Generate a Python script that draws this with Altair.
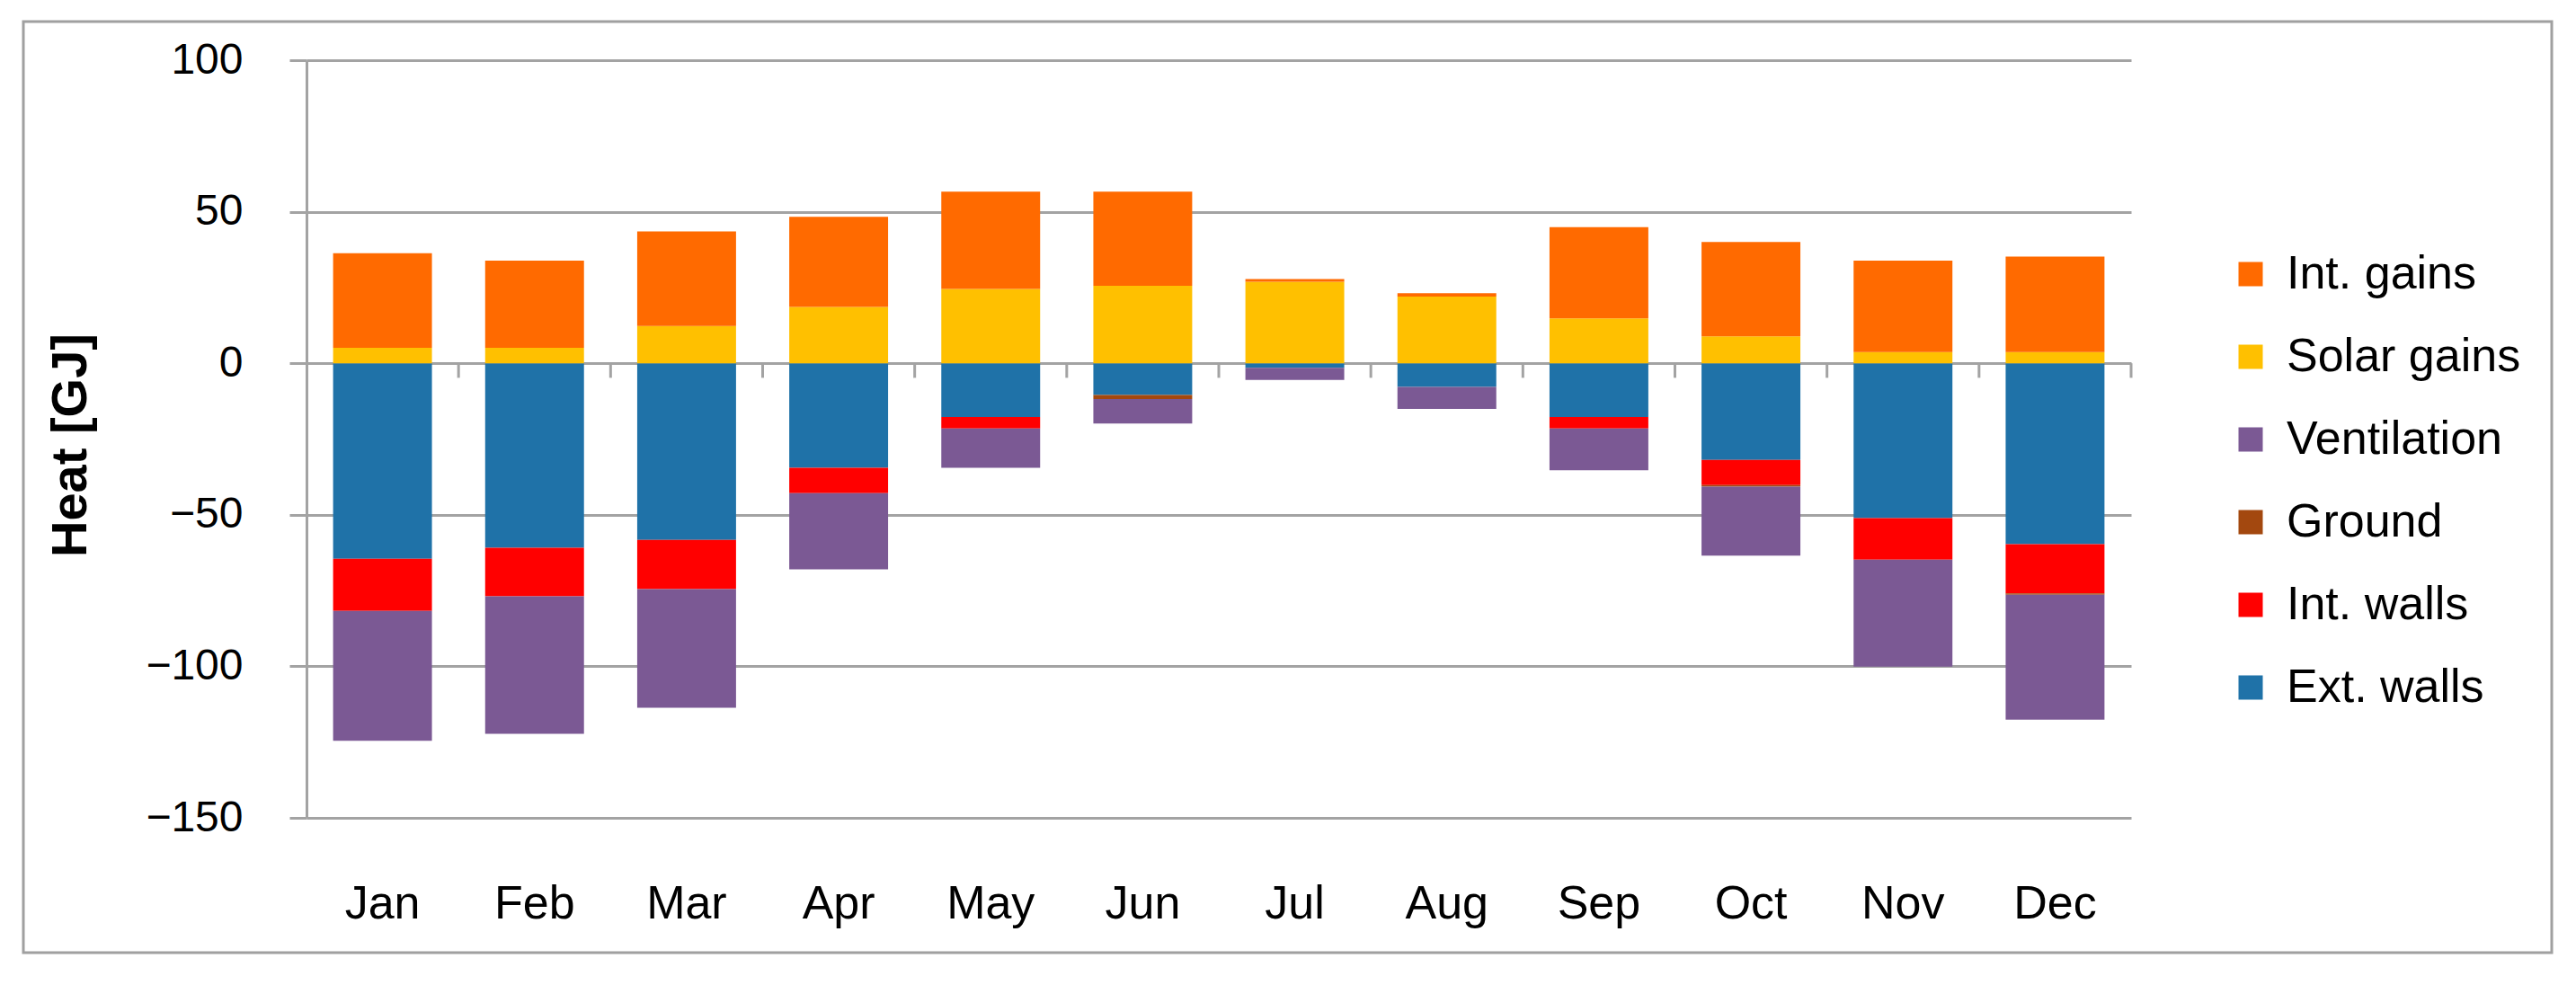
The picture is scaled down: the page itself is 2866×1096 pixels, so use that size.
import altair as alt
import pandas as pd

months = ["Jan", "Feb", "Mar", "Apr", "May", "Jun", "Jul", "Aug", "Sep", "Oct", "Nov", "Dec"]

# Stack order (from zero outward)
series = ["Ext. walls", "Int. walls", "Ground", "Ventilation", "Solar gains", "Int. gains"]
ext_walls = [-64.5, -60.9, -58.3, -34.5, -17.7, -10.5, -1.5, -7.8, -17.7, -31.9, -51.1, -59.7]
int_walls = [-17.2, -16.0, -16.2, -8.4, -3.8, 0.0, 0.0, 0.0, -3.8, -8.3, -13.7, -16.2]
ground = [0.0, 0.0, 0.0, 0.0, 0.0, -1.3, 0.0, 0.0, 0.0, -0.5, 0.0, -0.5]
ventilation = [-42.9, -45.4, -39.2, -25.1, -13.0, -8.1, -4.0, -7.3, -13.8, -22.8, -35.3, -41.2]
solar_gains = [5.1, 5.1, 12.3, 18.6, 24.5, 25.6, 26.9, 22.0, 14.8, 8.9, 3.7, 3.7]
int_gains = [31.2, 28.8, 31.2, 29.7, 32.1, 31.0, 0.9, 1.1, 30.1, 31.1, 30.2, 31.5]

legend_order = ["Int. gains", "Solar gains", "Ventilation", "Ground", "Int. walls", "Ext. walls"]
legend_colors = ["#FF6A00", "#FFC000", "#7B5994", "#A3480F", "#FF0000", "#1F72A8"]

y_ticks = [-150, -100, -50, 0, 50, 100]

rows = []
for i, m in enumerate(months):
    for k, (name, vals) in enumerate(zip(series, [ext_walls, int_walls, ground, ventilation, solar_gains, int_gains])):
        rows.append({"month": m, "series": name, "value": vals[i], "order": k})
df = pd.DataFrame(rows)
df_months = pd.DataFrame({"month": months})

W, H = 2030, 843
PAD_L, PAD_T = 333, 59
FONT = "Liberation Sans"
GRID = "#A3A3A3"
PAD_INNER = 0.35
# shift from bar end to band boundary (half of the gap between bars), in px
GAP_HALF = (W / len(months)) * PAD_INNER / 2

x_enc = alt.X(
    "month:N",
    sort=months,
    scale=alt.Scale(paddingInner=PAD_INNER, paddingOuter=PAD_INNER / 2),
    axis=alt.Axis(
        title=None, labelAngle=0, domain=False, ticks=False, grid=False,
        labelPadding=70, labelFontSize=52, labelFont=FONT, labelColor="black",
    ),
)
y_enc = alt.Y(
    "value:Q",
    stack="zero",
    title="Heat [GJ]",
    scale=alt.Scale(domain=[-150, 100], nice=False, zero=False),
    axis=alt.Axis(
        values=y_ticks, grid=True, gridColor=GRID, gridWidth=3,
        domain=True, domainColor=GRID, domainWidth=3,
        ticks=True, tickSize=19, tickColor=GRID, tickWidth=3,
        labelFontSize=48, labelFont=FONT, labelColor="black", labelPadding=52,
        titleFontSize=56, titleFont=FONT, titleFontWeight="bold", titleColor="black",
        titleX=-263, titleY=428, titleAngle=270, titleAlign="center", titleBaseline="middle",
    ),
)

bars = alt.Chart(df).mark_bar().encode(
    x=x_enc,
    y=y_enc,
    color=alt.Color(
        "series:N",
        scale=alt.Scale(domain=legend_order, range=legend_colors),
        legend=alt.Legend(
            title=None, orient="none", legendX=2137, legendY=212,
            symbolType="square", symbolSize=729, symbolStrokeWidth=0,
            labelFontSize=52, labelFont=FONT, labelColor="black", labelLimit=600,
            labelOffset=14, rowPadding=40, padding=0,
        ),
    ),
    order=alt.Order("order:Q"),
)

boundary_ticks = alt.Chart(df_months).mark_rule(
    color=GRID, strokeWidth=3, xOffset=GAP_HALF
).encode(
    x=alt.X("month:N", sort=months, bandPosition=1),
    y=alt.Y(datum=0),
    y2=alt.Y2(datum=-4.8),
)

frame = alt.Chart(pd.DataFrame({"a": [0]})).mark_rect(
    fill="transparent", stroke="#A0A0A0", strokeWidth=3
).encode(
    x=alt.value(26 - 8 - PAD_L), x2=alt.value(2839 - 8 - PAD_L),
    y=alt.value(24 - 8 - PAD_T), y2=alt.value(1060 - 8 - PAD_T),
)

chart = alt.layer(bars, boundary_ticks, frame).properties(
    width=W, height=H,
    background="white",
    autosize=alt.AutoSizeParams(type="none"),
    padding={"left": PAD_L, "top": PAD_T, "right": 480, "bottom": 170},
).configure_view(stroke=None)

chart.save("out.html", embed_options={"renderer": "svg", "actions": False})
